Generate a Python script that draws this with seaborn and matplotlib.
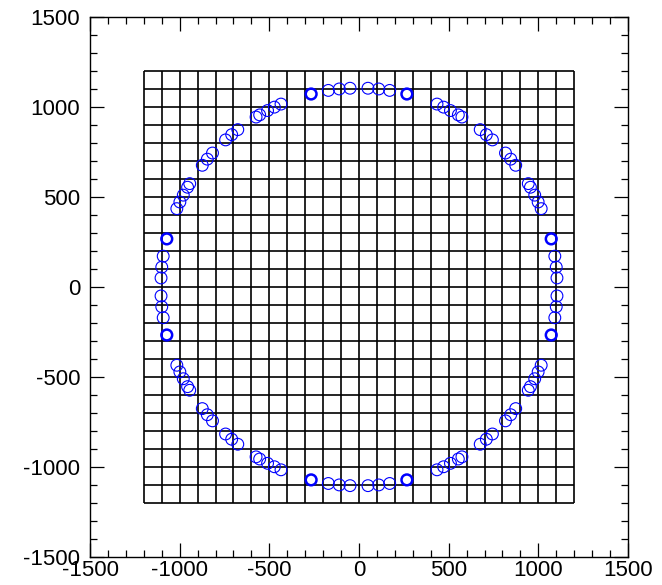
import numpy as np
import pandas as pd
import matplotlib.pyplot as plt
import seaborn as sns
from matplotlib.ticker import MultipleLocator

# ring of detector positions (quadrant by quadrant)
ring_x = [-50, -110, -171, -435, -472, -510, -554, -574, -676, -710, -744,
          -817, -846, -874, -944, -956, -980, -999, -1016, -1092, -1100, -1104,
          50, 110, 171, 435, 472, 510, 554, 574, 676, 710, 744,
          817, 846, 874, 944, 956, 980, 999, 1016, 1092, 1100, 1104,
          -50, -110, -171, -435, -472, -510, -554, -574, -676, -710, -744,
          -817, -846, -874, -944, -956, -980, -999, -1016, -1092, -1100, -1104,
          50, 110, 171, 435, 472, 510, 554, 574, 676, 710, 744,
          817, 846, 874, 944, 956, 980, 999, 1016, 1092, 1100, 1104]
ring_y = [1104, 1100, 1092, 1016, 999, 980, 956, 944, 874, 846, 817,
          744, 710, 676, 574, 554, 510, 472, 435, 171, 110, 50,
          1104, 1100, 1092, 1016, 999, 980, 956, 944, 874, 846, 817,
          744, 710, 676, 574, 554, 510, 472, 435, 171, 110, 50,
          -1104, -1100, -1092, -1016, -999, -980, -956, -944, -874, -846, -817,
          -744, -710, -676, -574, -554, -510, -472, -435, -171, -110, -50,
          -1104, -1100, -1092, -1016, -999, -980, -956, -944, -874, -846, -817,
          -744, -710, -676, -574, -554, -510, -472, -435, -171, -110, -50]

# the heavier (doubled) markers
bold_x = [-267, -1072, 267, 1072, -267, -1072, 267, 1072]
bold_y = [1072, 267, 1072, 267, -1072, -267, -1072, -267]

grid_lo, grid_hi, grid_step = -1200, 1200, 100
grid_vals = np.arange(grid_lo, grid_hi + 1, grid_step)

ring = pd.DataFrame({"x": ring_x, "y": ring_y})
bold = pd.DataFrame({"x": bold_x, "y": bold_y})

sns.set_style("ticks")
plt.rcParams['font.family'] = ['Liberation Sans', 'DejaVu Sans']
plt.rcParams['axes.unicode_minus'] = False

fig = plt.figure(figsize=(6.62, 5.85), dpi=100)
ax = fig.add_axes([0.136, 0.048, 0.8126, 0.923])

# square mesh
ax.vlines(grid_vals, grid_lo, grid_hi, colors="black", lw=1.2, zorder=1)
ax.hlines(grid_vals, grid_lo, grid_hi, colors="black", lw=1.2, zorder=1)

sns.scatterplot(data=ring, x="x", y="y", marker="o", s=72,
                fc="none", ec="blue", linewidth=0.8, ax=ax, zorder=3)
sns.scatterplot(data=bold, x="x", y="y", marker="o", s=60,
                fc="none", ec="blue", linewidth=1.8, ax=ax, zorder=3)

ax.set_xlim(-1500, 1500)
ax.set_ylim(-1500, 1500)
ax.set_xlabel("")
ax.set_ylabel("")
for a in (ax.xaxis, ax.yaxis):
    a.set_major_locator(MultipleLocator(500))
    a.set_minor_locator(MultipleLocator(100))
ax.tick_params(which="both", direction="in", top=True, right=True,
               width=0.9, colors="black")
ax.tick_params(which="major", length=10, labelsize=16)
ax.tick_params(which="minor", length=5)
ax.tick_params(axis="x", pad=2)
ax.tick_params(axis="y", pad=7)
for s in ax.spines.values():
    s.set_linewidth(1.0)
    s.set_color("black")

fig.savefig("out.png", dpi=100)
